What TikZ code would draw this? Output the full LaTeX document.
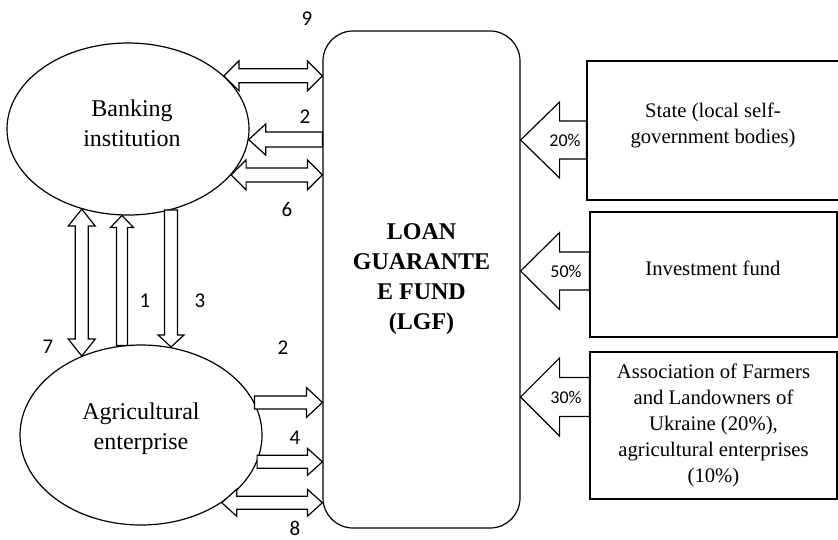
\documentclass[tikz,border=0pt]{standalone}
\usepackage{fontspec}
\setmainfont{Liberation Serif}
\newfontfamily\numfont{Carlito}
\usetikzlibrary{calc,shapes.geometric}
\tikzset{
  oval/.style={ellipse,draw,line width=1.2pt,inner sep=0pt},
  box/.style={rectangle,draw,line width=1.2pt,inner sep=0pt},
  bodytext/.style={align=center,font=\fontsize{24}{30}\selectfont},
  boxtext/.style={align=center,font=\fontsize{20.7}{26}\selectfont},
  num/.style={font=\numfont\fontsize{21}{24}\selectfont},
  pct/.style={font=\numfont\fontsize{18}{20}\selectfont},
  onearrow/.style n args={3}{draw,fill=white,line width=1.2pt,
    to path={let \p1=(\tikztostart), \p2=(\tikztotarget), \p3=($(\p2)!#3!(\p1)$) in
      ($(\p1)!#1!90:(\p2)$) -- ($(\p3)!#1!90:(\p2)$) -- ($(\p3)!#2!90:(\p2)$) -- (\p2)
      -- ($(\p3)!#2!-90:(\p2)$) -- ($(\p3)!#1!-90:(\p2)$) -- ($(\p1)!#1!-90:(\p2)$) -- cycle}},
  twoarrow/.style n args={3}{draw,fill=white,line width=1.2pt,
    to path={let \p1=(\tikztostart), \p2=(\tikztotarget), \p3=($(\p2)!#3!(\p1)$), \p4=($(\p1)!#3!(\p2)$) in
      ($(\p4)!#1!90:(\p2)$) -- ($(\p3)!#1!90:(\p2)$) -- ($(\p3)!#2!90:(\p2)$) -- (\p2)
      -- ($(\p3)!#2!-90:(\p2)$) -- ($(\p3)!#1!-90:(\p2)$) -- ($(\p4)!#1!-90:(\p2)$)
      -- ($(\p4)!#2!-90:(\p2)$) -- (\p1) -- ($(\p4)!#2!90:(\p2)$) -- cycle}}
}
\begin{document}
\begin{tikzpicture}[x=1pt,y=-1pt]
\path[fill=white,use as bounding box] (0,0) rectangle (838,539);

\node (bank) [oval,minimum width=242,minimum height=172] at (128,129) {};
\node (agri) [oval,minimum width=242,minimum height=180] at (141,435) {};
\node (lgf) [box,rounded corners=30pt,minimum width=197,minimum height=497,bodytext,font=\fontsize{24}{30}\selectfont\bfseries] at (421.5,279.5) {LOAN\\GUARANTE\\E FUND\\(LGF)};
\node (state) [box,minimum width=263,minimum height=139] at (718.5,130.5) {};
\node (invest) [box,minimum width=247,minimum height=125] at (713.5,274.5) {};
\node (assoc) [box,minimum width=247,minimum height=147,boxtext] at (713.5,425.5) {Association of Farmers\\and Landowners of\\Ukraine (20\%),\\agricultural enterprises\\(10\%)};

\node (banktxt) [bodytext] at (132,123) {Banking\\institution};
\node (agritxt) [bodytext] at (141,429) {Agricultural\\enterprise};
\node (statetxt) [boxtext] at (713,125) {State (local self-\\government bodies)};
\node (investtxt) [boxtext] at (713,268) {Investment fund};

\draw [twoarrow={7pt}{15pt}{15pt}] (bank.29) to (lgf.west |- bank.29);
\draw [onearrow={7.5pt}{15.5pt}{17pt}] (lgf.west |- bank.-5) to (bank.-5);
\draw [twoarrow={7pt}{15pt}{15pt}] (bank.-24) to (lgf.west |- bank.-24);

\draw [twoarrow={6.5pt}{13.5pt}{17pt}] (bank.240) to (bank.240 |- agri.127);
\draw [onearrow={5.5pt}{11.5pt}{12pt}] (agri.102) to (agri.102 |- bank.266);
\draw [onearrow={6.5pt}{13pt}{12pt}] (bank.-62) to (bank.-62 |- agri.72);

\draw [onearrow={6.5pt}{15pt}{16pt}] (agri.16) to (lgf.west |- agri.16);
\draw [onearrow={6.5pt}{13.5pt}{15pt}] (agri.-13) to (lgf.west |- agri.-13);
\draw [twoarrow={6.5pt}{13.5pt}{15pt}] (agri.-40) to (lgf.west |- agri.-40);

\draw [onearrow={19pt}{38pt}{39pt}] (state.west |- 0,140) to (lgf.east |- 0,140);
\draw [onearrow={19pt}{38.5pt}{39pt}] (invest.west |- 0,271) to (lgf.east |- 0,271);
\draw [onearrow={19.5pt}{39pt}{39pt}] (assoc.west |- 0,397) to (lgf.east |- 0,397);

\node (p20) [pct] at (565,140) {20\%};
\node (p50) [pct] at (566,271) {50\%};
\node (p30) [pct] at (566,397) {30\%};

\node (n9) [num] at (307,19) {9};
\node (n2a) [num] at (305,117) {2};
\node (n6) [num] at (287,209) {6};
\node (n1) [num] at (145,301) {1};
\node (n3) [num] at (200,301) {3};
\node (n7) [num] at (48,347) {7};
\node (n2b) [num] at (283,348) {2};
\node (n4) [num] at (295,438) {4};
\node (n8) [num] at (295,528) {8};
\end{tikzpicture}
\end{document}
